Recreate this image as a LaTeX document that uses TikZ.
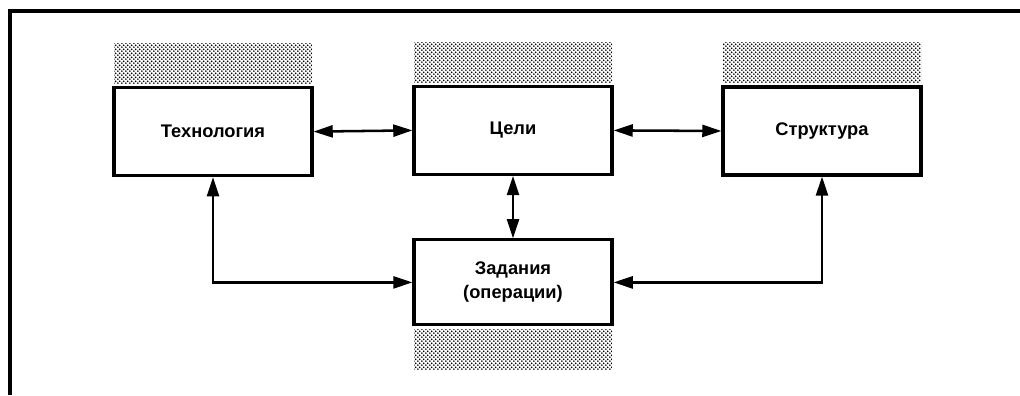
\documentclass[tikz,border=0pt]{standalone}
\usepackage{fontspec}
\setmainfont{Liberation Sans}
\usepackage{tikz}
\usetikzlibrary{positioning,patterns,arrows.meta}

% Dotted screen for the shaded strips
\pgfdeclarepatternformonly{dotscreen}{\pgfpointorigin}{\pgfqpoint{3pt}{3pt}}{\pgfqpoint{3pt}{3pt}}{
    \pgfpathcircle{\pgfqpoint{0.75pt}{0.75pt}}{0.75pt}
    \pgfpathcircle{\pgfqpoint{2.25pt}{2.25pt}}{0.75pt}
    \pgfusepath{fill}
}

\begin{document}
\begin{tikzpicture}
    % Define node styles
    \tikzstyle{block} = [rectangle, draw, line width=2.2pt, minimum width=4.95cm, minimum height=2.2cm, font=\fontsize{13}{15}\selectfont\bfseries, align=center]
    \tikzstyle{hatch} = [rectangle, pattern=dotscreen, pattern color=black, minimum width=4.95cm, minimum height=1cm, inner sep=0pt]
    \tikzstyle{link} = [{Triangle[length=0.48cm,width=0.3cm]}-{Triangle[length=0.48cm,width=0.3cm]}, line width=1.8pt]
    \useasboundingbox (0,0) rectangle (25.5,-9.875);

    % Frame (top and left edges)
    \draw[line width=2.4pt] (0.25,-9.875) -- (0.25,-0.275) -- (25.5,-0.275);

    % Blocks
    \node[block] (tech) at (5.325,-3.29) {Технология};
    \node[block] (goals) at (12.825,-3.26) {Цели};
    \node[block] (struct) at (20.55,-3.275) {Структура};
    \node[block, minimum height=2.125cm] (tasks) at (12.825,-7.06) {Задания\\[2pt](операции)};

    % Shaded strips
    \node[hatch, above=0.06cm of tech] (techhatch) {};
    \node[hatch, above=0.06cm of goals] (goalshatch) {};
    \node[hatch, above=0.06cm of struct] (structhatch) {};
    \node[hatch, below=0.06cm of tasks] (taskshatch) {};

    % Connections
    \draw[link] (tech.east) -- (goals.west);
    \draw[link] (goals.east) -- (struct.west);
    \draw[link] (goals.south) -- (tasks.north);
    \draw[link] (tech.south) |- (tasks.west);
    \draw[link] (struct.south) |- (tasks.east);
\end{tikzpicture}
\end{document}
